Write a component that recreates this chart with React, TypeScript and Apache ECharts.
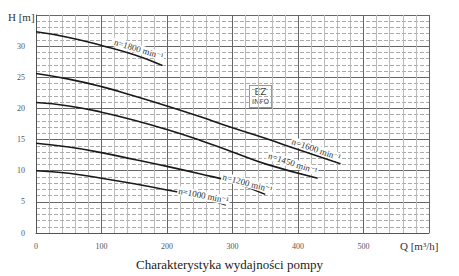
import React, { useEffect, useRef } from 'react';
import * as echarts from 'echarts';

const q1800 = [0, 50, 100, 150, 193];
const h1800 = [32.3, 31.4, 30.1, 28.6, 26.9];
const q1600 = [0, 50, 100, 150, 200, 250, 300, 350, 400, 465];
const h1600 = [25.6, 24.7, 23.5, 22.0, 20.4, 18.7, 16.9, 15.2, 13.4, 11.1];
const q1450 = [0, 50, 100, 150, 200, 250, 300, 350, 430];
const h1450 = [20.95, 20.4, 19.4, 18.1, 16.6, 14.9, 13.0, 11.1, 8.8];
const q1200 = [0, 50, 100, 150, 200, 250, 300, 350];
const h1200 = [14.4, 13.8, 12.9, 11.8, 10.7, 9.5, 8.2, 6.2];
const q1000 = [0, 50, 100, 150, 200, 250, 290];
const h1000 = [10.0, 9.6, 8.8, 7.9, 6.9, 5.8, 4.5];

const curveNames = ['n=1800 min⁻¹', 'n=1600 min⁻¹', 'n=1450 min⁻¹', 'n=1200 min⁻¹', 'n=1000 min⁻¹'];
const labelQ = [157, 428, 392, 323, 256];
const labelH = [29.5, 13.4, 11.2, 8.0, 6.0];
const labelAngle = [-17, -19, -18, -15, -11];

const xMax = 600;
const yMax = 35;
const title = 'Charakterystyka wydajności pompy';
const xName = 'Q [m³/h]';
const yName = 'H [m]';

const SERIF = '"Liberation Serif", "DejaVu Serif", serif';

export default function App() {
  const ref = useRef<HTMLDivElement>(null);
  useEffect(() => {
    const chart = echarts.init(ref.current!, null, { renderer: 'svg' });
    const qs = [q1800, q1600, q1450, q1200, q1000];
    const hs = [h1800, h1600, h1450, h1200, h1000];
    const series = qs.map((q, i) => ({
      type: 'line',
      name: curveNames[i],
      smooth: true,
      symbol: 'none',
      data: q.map((x, j) => [x, hs[i][j]]),
      lineStyle: { color: '#1a1a1a', width: 1.6 },
      markPoint: {
        symbol: 'circle',
        symbolSize: 0,
        silent: true,
        data: [{ coord: [labelQ[i], labelH[i]] }],
        label: {
          show: true,
          position: 'inside',
          formatter: curveNames[i],
          rotate: labelAngle[i],
          fontFamily: SERIF,
          fontSize: 9,
          color: '#333',
          backgroundColor: '#fff',
          padding: [0, 1],
        },
      },
    }));
    chart.setOption({
      animation: false,
      backgroundColor: '#fff',
      title: {
        text: title,
        left: 'center',
        top: 253,
        textStyle: { fontFamily: SERIF, fontSize: 13, fontWeight: 'normal', color: '#222' },
      },
      grid: { left: 36, right: 30, top: 15, bottom: 43, containLabel: false },
      xAxis: {
        type: 'value',
        min: 0,
        max: xMax,
        interval: 100,
        axisLine: { show: true, lineStyle: { color: '#555', width: 1 } },
        axisTick: { show: false },
        axisLabel: {
          fontFamily: SERIF,
          fontSize: 8,
          color: '#555',
          margin: 9,
          formatter: (v: number) => (v >= xMax ? '' : String(v)),
        },
        splitLine: { show: true, lineStyle: { color: '#666', width: 1 } },
        minorTick: { show: false, splitNumber: 5 },
        minorSplitLine: { show: true, lineStyle: { color: '#bbb', width: 1 } },
      },
      yAxis: {
        type: 'value',
        min: 0,
        max: yMax,
        interval: 5,
        axisLine: { show: true, lineStyle: { color: '#555', width: 1 } },
        axisTick: { show: false },
        axisLabel: {
          fontFamily: SERIF,
          fontSize: 8,
          color: '#555',
          margin: 11,
          formatter: (v: number) => (v >= yMax ? '' : String(v)),
        },
        splitLine: { show: true, lineStyle: { color: '#666', width: 1 } },
        minorTick: { show: false, splitNumber: 5 },
        minorSplitLine: { show: true, lineStyle: { color: '#aaa', width: 1, type: [4, 2] } },
      },
      graphic: [
        {
          type: 'text',
          left: 400,
          top: 240,
          style: { text: xName, fontFamily: SERIF, fontSize: 11, fill: '#333' },
        },
        {
          type: 'text',
          left: 8,
          top: 11,
          style: { text: yName, fontFamily: SERIF, fontSize: 11, fill: '#333' },
        },
        {
          type: 'group',
          left: 249,
          top: 85,
          children: [
            { type: 'rect', shape: { x: 0, y: 0, width: 22, height: 22 }, style: { fill: '#fff', stroke: '#333', lineWidth: 1, lineDash: [1, 1] } },
            { type: 'text', x: 11, y: 6, style: { text: 'EZ', fontSize: 9, fontFamily: 'DejaVu Sans', fill: '#444', align: 'center', verticalAlign: 'middle' } },
            { type: 'text', x: 11, y: 16, style: { text: 'INFO', fontSize: 7, fontFamily: 'DejaVu Sans', fill: '#444', align: 'center', verticalAlign: 'middle' } },
          ],
        },
      ],
      series,
    });
    return () => chart.dispose();
  }, []);
  return <div ref={ref} style={{ position: 'absolute', left: 0, top: 0, width: 459, height: 276 }} />;
}
